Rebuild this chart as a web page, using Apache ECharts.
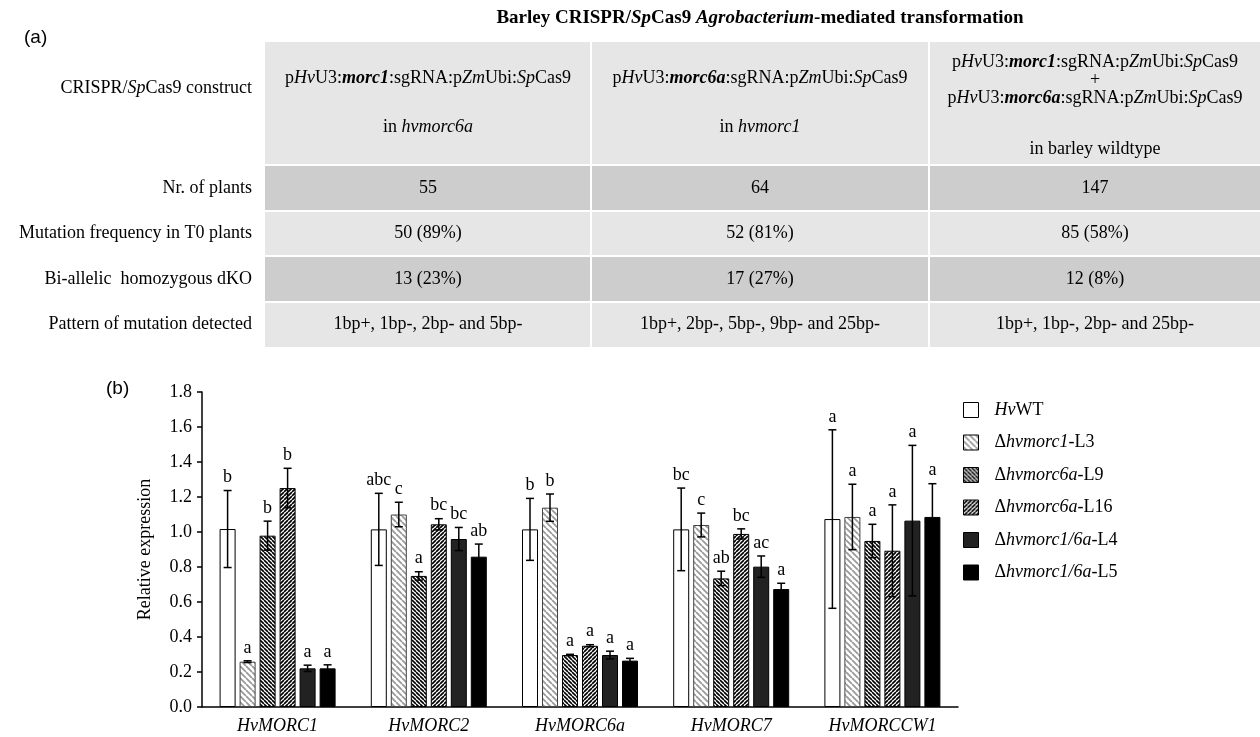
<!DOCTYPE html>
<html><head><meta charset="utf-8">
<script src="https://cdn.jsdelivr.net/npm/echarts@6/dist/echarts.min.js"></script>
<style>html,body{margin:0;padding:0;background:#fff}#c{width:1260px;height:737px}</style>
</head><body><div id="c"></div>
<script>
// ---------------- DATA ----------------
const categories = ['HvMORC1', 'HvMORC2', 'HvMORC6a', 'HvMORC7', 'HvMORCCW1'];
const seriesNames = ['HvWT', 'Δhvmorc1-L3', 'Δhvmorc6a-L9', 'Δhvmorc6a-L16', 'Δhvmorc1/6a-L4', 'Δhvmorc1/6a-L5'];
const legendLabels = ['{i|Hv}WT', 'Δ{i|hvmorc1}-L3', 'Δ{i|hvmorc6a}-L9', 'Δ{i|hvmorc6a}-L16', 'Δ{i|hvmorc1/6a}-L4', 'Δ{i|hvmorc1/6a}-L5'];

const wtValues  = [1.017, 1.015, 1.015, 1.015, 1.074];
const l3Values  = [0.259, 1.100, 1.139, 1.040, 1.086];
const l9Values  = [0.979, 0.749, 0.297, 0.735, 0.949];
const l16Values = [1.251, 1.044, 0.350, 0.989, 0.893];
const l4Values  = [0.221, 0.960, 0.297, 0.802, 1.065];
const l5Values  = [0.221, 0.859, 0.265, 0.674, 1.086];

const wtErrors  = [0.220, 0.206, 0.177, 0.236, 0.510];
const l3Errors  = [0.005, 0.070, 0.078, 0.068, 0.187];
const l9Errors  = [0.083, 0.024, 0.004, 0.041, 0.095];
const l16Errors = [0.113, 0.032, 0.006, 0.029, 0.262];
const l4Errors  = [0.018, 0.066, 0.022, 0.061, 0.430];
const l5Errors  = [0.020, 0.072, 0.013, 0.033, 0.190];

const wtLetters  = ['b', 'abc', 'b', 'bc', 'a'];
const l3Letters  = ['a', 'c', 'b', 'c', 'a'];
const l9Letters  = ['b', 'a', 'a', 'ab', 'a'];
const l16Letters = ['b', 'bc', 'a', 'bc', 'a'];
const l4Letters  = ['a', 'bc', 'a', 'ac', 'a'];
const l5Letters  = ['a', 'ab', 'a', 'a', 'a'];

const yTicks = { min: 0, max: 1.8, interval: 0.2 };

// table (a)
const tableTitle = 'Barley CRISPR/{bi|Sp}Cas9 {bi|Agrobacterium}-mediated transformation';
const rowLabels = ['CRISPR/{i|Sp}Cas9 construct', 'Nr. of plants', 'Mutation frequency in T0 plants', 'Bi-allelic  homozygous dKO', 'Pattern of mutation detected'];
const constructCol1 = ['p{i|Hv}U3:{bi|morc1}:sgRNA:p{i|Zm}Ubi:{i|Sp}Cas9', 'in {i|hvmorc6a}'];
const constructCol2 = ['p{i|Hv}U3:{bi|morc6a}:sgRNA:p{i|Zm}Ubi:{i|Sp}Cas9', 'in {i|hvmorc1}'];
const constructCol3 = ['p{i|Hv}U3:{bi|morc1}:sgRNA:p{i|Zm}Ubi:{i|Sp}Cas9', '+', 'p{i|Hv}U3:{bi|morc6a}:sgRNA:p{i|Zm}Ubi:{i|Sp}Cas9', 'in barley wildtype'];
const plantsRow = ['55', '64', '147'];
const mutFreqRow = ['50 (89%)', '52 (81%)', '85 (58%)'];
const dkoRow = ['13 (23%)', '17 (27%)', '12 (8%)'];
const patternRow = ['1bp+, 1bp-, 2bp- and 5bp-', '1bp+, 2bp-, 5bp-, 9bp- and 25bp-', '1bp+, 1bp-, 2bp- and 25bp-'];

// ---------------- RENDER ----------------
const SERIF = '"Liberation Serif", "Times New Roman", serif';
const SANS = '"Liberation Sans", Arial, sans-serif';
const values = [wtValues, l3Values, l9Values, l16Values, l4Values, l5Values];
const errors = [wtErrors, l3Errors, l9Errors, l16Errors, l4Errors, l5Errors];
const letters = [wtLetters, l3Letters, l9Letters, l16Letters, l4Letters, l5Letters];

function hatch(size, lw, fg, bg, dir) {
  const c = document.createElement('canvas');
  c.width = size; c.height = size;
  const g = c.getContext('2d');
  g.fillStyle = bg; g.fillRect(0, 0, size, size);
  g.strokeStyle = fg; g.lineWidth = lw; g.beginPath();
  for (let k = -1; k <= 1; k++) {
    if (dir === '\\') { g.moveTo(k * size, 0); g.lineTo(k * size + size, size); }
    else { g.moveTo(k * size, size); g.lineTo(k * size + size, 0); }
  }
  g.stroke();
  return { image: c, repeat: 'repeat' };
}

const fills = [
  '#ffffff',
  hatch(6, 1.8, '#9a9a9a', '#ffffff', '\\'),
  hatch(4, 1.6, '#000000', '#ffffff', '\\'),
  hatch(4, 1.7, '#000000', '#ffffff', '/'),
  '#222222',
  '#000000'
];
const borders = ['#000', '#444', '#000', '#000', '#000', '#000'];

const BAR_W = 16, BAR_GAP = 4;

function fontOf(size, style, weight, fam) {
  return { fontSize: size, fontFamily: fam || SERIF, fontStyle: style || 'normal', fontWeight: weight || 'normal', fill: '#000' };
}
const RICH = {
  i: fontOf(18, 'italic'),
  bi: fontOf(18, 'italic', 'bold')
};

function gText(x, y, text, align, extra) {
  const st = Object.assign({
    text: text, fontSize: 18, fontFamily: SERIF, fill: '#000',
    textAlign: align, align: align, textVerticalAlign: 'middle', verticalAlign: 'middle',
    rich: RICH
  }, extra || {});
  return { type: 'text', x: x, y: y, silent: true, style: st };
}

const graphics = [];
// table geometry
const colX = [265, 591, 929, 1261];
const rowY = [42, 165, 211, 256, 302, 347];
const rowFill = ['#e6e6e6', '#cdcdcd', '#e6e6e6', '#cdcdcd', '#e6e6e6'];
for (let r = 0; r < 5; r++) {
  for (let c = 0; c < 3; c++) {
    const x0 = colX[c] + (c > 0 ? 1 : 0);
    const x1 = colX[c + 1] - (c < 2 ? 1 : 0);
    const y0 = rowY[r] + (r > 0 ? 1 : 0);
    const y1 = rowY[r + 1] - (r < 4 ? 1 : 0);
    graphics.push({ type: 'rect', silent: true, shape: { x: x0, y: y0, width: x1 - x0, height: y1 - y0 }, style: { fill: rowFill[r] } });
  }
}
const colC = [0, 1, 2].map(c => (colX[c] + colX[c + 1]) / 2);
const rowC = [0, 1, 2, 3, 4].map(r => (rowY[r] + rowY[r + 1]) / 2);
// row labels
graphics.push(gText(252, 88, rowLabels[0], 'right'));
for (let r = 1; r < 5; r++) graphics.push(gText(252, rowC[r], rowLabels[r], 'right'));
// construct row
const off12 = [36, 85];
const off3 = [20, 38, 56, 107];
constructCol1.forEach((t, i) => graphics.push(gText(colC[0], rowY[0] + off12[i], t, 'center')));
constructCol2.forEach((t, i) => graphics.push(gText(colC[1], rowY[0] + off12[i], t, 'center')));
constructCol3.forEach((t, i) => graphics.push(gText(colC[2], rowY[0] + off3[i], t, 'center')));
[plantsRow, mutFreqRow, dkoRow, patternRow].forEach((row, ri) => {
  row.forEach((t, c) => graphics.push(gText(colC[c], rowC[ri + 1], t, 'center')));
});
// title
graphics.push(gText(colC[1], 18, tableTitle, 'center', { fontWeight: 'bold', fontSize: 19, rich: { bi: fontOf(19, 'italic', 'bold') } }));
// panel letters
graphics.push(gText(24, 38, '(a)', 'left', { fontFamily: SANS, fontSize: 19 }));
graphics.push(gText(106, 389, '(b)', 'left', { fontFamily: SANS, fontSize: 19 }));

const barSeries = seriesNames.map((n, s) => ({
  name: n, type: 'bar', data: values[s], barWidth: BAR_W, barGap: (BAR_GAP / BAR_W * 100) + '%',
  itemStyle: { color: fills[s], borderColor: borders[s], borderWidth: 1 },
  z: 2
}));

function errRender(s) {
  return function (params, api) {
    const ci = api.value(0), v = api.value(1), e = api.value(2);
    const p = api.coord([ci, v]);
    const x = p[0] + (s - 2.5) * (BAR_W + BAR_GAP);
    const yT = api.coord([ci, v + e])[1];
    const yB = api.coord([ci, v - e])[1];
    const cap = 4;
    const st = { stroke: '#000', lineWidth: 1.5 };
    return {
      type: 'group', children: [
        { type: 'line', shape: { x1: x, y1: yT, x2: x, y2: yB }, style: st },
        { type: 'line', shape: { x1: x - cap, y1: yT, x2: x + cap, y2: yT }, style: st },
        { type: 'line', shape: { x1: x - cap, y1: yB, x2: x + cap, y2: yB }, style: st },
        { type: 'text', x: x, y: yT - 4, style: { text: letters[s][params.dataIndex], fill: '#000', fontSize: 18, fontFamily: SERIF, textAlign: 'center', align: 'center', textVerticalAlign: 'bottom', verticalAlign: 'bottom' } }
      ]
    };
  };
}
const errSeries = seriesNames.map((n, s) => ({
  name: 'err' + s, type: 'custom', z: 5,
  data: values[s].map((v, i) => [i, v, errors[s][i]]),
  encode: { x: 0, y: 1 },
  renderItem: errRender(s)
}));

const chart = echarts.init(document.getElementById('c'), null, { renderer: 'canvas' });
chart.setOption({
  animation: false,
  textStyle: { fontFamily: SERIF },
  grid: { left: 202, top: 392, width: 756, height: 315, containLabel: false, outerBoundsMode: 'none' },
  legend: {
    orient: 'vertical', left: 958, top: 396, itemWidth: 15, itemHeight: 15, itemGap: 14.5,
    icon: 'rect', data: seriesNames,
    formatter: n => legendLabels[seriesNames.indexOf(n)],
    itemStyle: { borderColor: '#000', borderWidth: 1 },
    textStyle: {
      fontFamily: SERIF, fontSize: 18, color: '#000', lineHeight: 18, padding: [0, 0, 0, 11],
      rich: { i: { fontFamily: SERIF, fontSize: 18, fontStyle: 'italic', color: '#000', lineHeight: 18 } }
    }
  },
  xAxis: {
    type: 'category', data: categories,
    axisLine: { lineStyle: { color: '#000', width: 1.5 } },
    axisTick: { alignWithLabel: true, length: 5, lineStyle: { color: '#000', width: 1.5 } },
    axisLabel: { fontFamily: SERIF, fontSize: 18, fontStyle: 'italic', color: '#000', margin: 10 }
  },
  yAxis: {
    type: 'value', min: yTicks.min, max: yTicks.max, interval: yTicks.interval,
    name: 'Relative expression', nameLocation: 'middle', nameGap: 48,
    nameTextStyle: { fontFamily: SERIF, fontSize: 18, color: '#000' },
    axisLine: { show: true, lineStyle: { color: '#000', width: 1.5 } },
    axisTick: { show: true, length: 5, lineStyle: { color: '#000', width: 1.5 } },
    splitLine: { show: false },
    axisLabel: { fontFamily: SERIF, fontSize: 18, color: '#000', margin: 10, formatter: v => v.toFixed(1) }
  },
  series: barSeries.concat(errSeries),
  graphic: graphics
});
</script></body></html>
